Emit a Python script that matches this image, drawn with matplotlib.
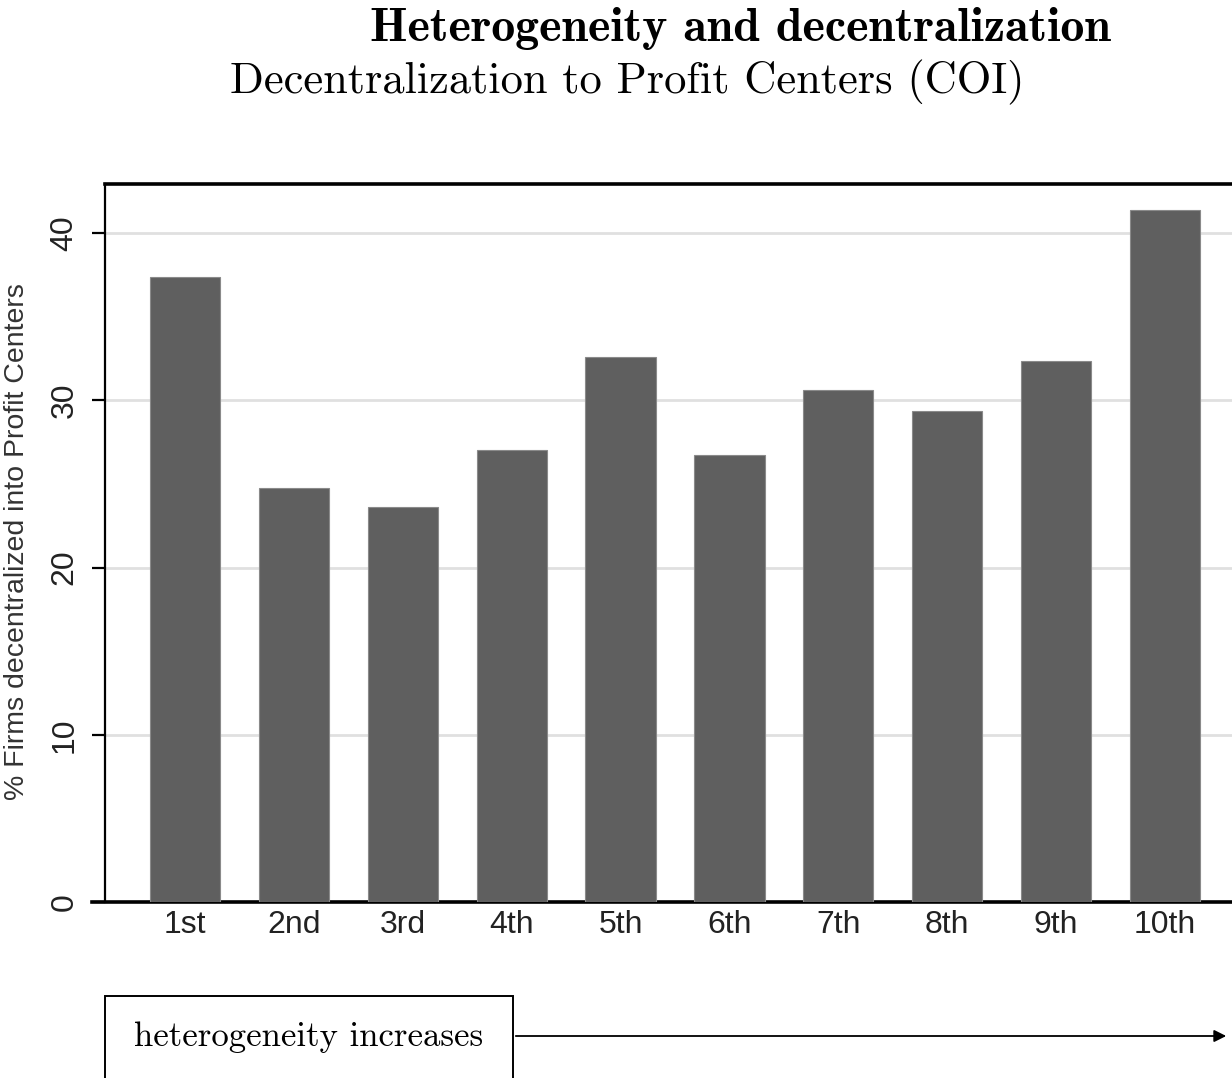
import matplotlib
matplotlib.use("Agg")
import matplotlib.pyplot as plt
from matplotlib.patches import Rectangle, FancyArrowPatch

categories = ["1st", "2nd", "3rd", "4th", "5th", "6th", "7th", "8th", "9th", "10th"]
values = [37.35, 24.75, 23.6, 27.0, 32.6, 26.7, 30.6, 29.35, 32.35, 41.35]
yticks = [0, 10, 20, 30, 40]

W, H = 1232, 1078
fig = plt.figure(figsize=(W / 100, H / 100), dpi=100)
ax = fig.add_axes([105 / W, (H - 902) / H, 1 - 105 / W, (902 - 184) / H])

x = list(range(1, len(categories) + 1))
ax.bar(x, values, width=0.645, color="#5f5f5f", edgecolor="#8a8a8a", linewidth=0.8, zorder=3)

ax.set_xlim(0.265, 10.615)
ax.set_ylim(0, 42.93)
ax.set_yticks(yticks)
ax.set_yticklabels([str(v) for v in yticks], rotation=90, va="center",
                   fontsize=23, family="Liberation Sans", color="#222222")
ax.set_xticks(x)
ax.set_xticklabels(categories, fontsize=23, family="Liberation Sans", color="#222222")
ax.tick_params(axis="x", length=0, pad=6)
ax.tick_params(axis="y", length=9.5, width=1.6, pad=9)
ax.grid(axis="y", color="#e0e0e0", linewidth=2, zorder=0)
ax.set_axisbelow(True)

ax.spines["right"].set_visible(False)
ax.spines["top"].set_linewidth(2.6)
ax.spines["left"].set_linewidth(1.6)
ax.spines["bottom"].set_linewidth(2.6)
ax.spines["bottom"].set_bounds(0.265 - 13 / 108.9, 10.615)

ax.set_ylabel("% Firms decentralized into Profit Centers", fontsize=20.5,
              family="Liberation Sans", color="#333333")
ax.yaxis.set_label_coords(-75 / 1127, (902 - 542) / 718)

fig.text(740 / W, 1 - 28 / H, "Heterogeneity and decentralization", ha="center", va="center",
         fontsize=34.5, family=["cmb10", "DejaVu Serif"], fontweight="bold")
fig.text(627 / W, 1 - 82 / H, "Decentralization to Profit Centers (COI)", ha="center", va="center",
         fontsize=32, family=["cmr10", "DejaVu Serif"])

box = Rectangle((105 / W, -0.05), (513 - 105) / W, (1078 - 996) / H + 0.05,
                transform=fig.transFigure, fill=False, edgecolor="black", linewidth=1.4)
fig.patches.append(box)
fig.text(309 / W, 1 - 1037 / H, "heterogeneity increases", ha="center", va="center",
         fontsize=25, family=["cmr10", "DejaVu Serif"])
fig.patches.append(FancyArrowPatch(
    (513 / W, 1 - 1036 / H), (1229 / W, 1 - 1036 / H), transform=fig.transFigure,
    arrowstyle="-|>", mutation_scale=18, linewidth=1.3, color="black"))

fig.savefig("out.png", dpi=100)
